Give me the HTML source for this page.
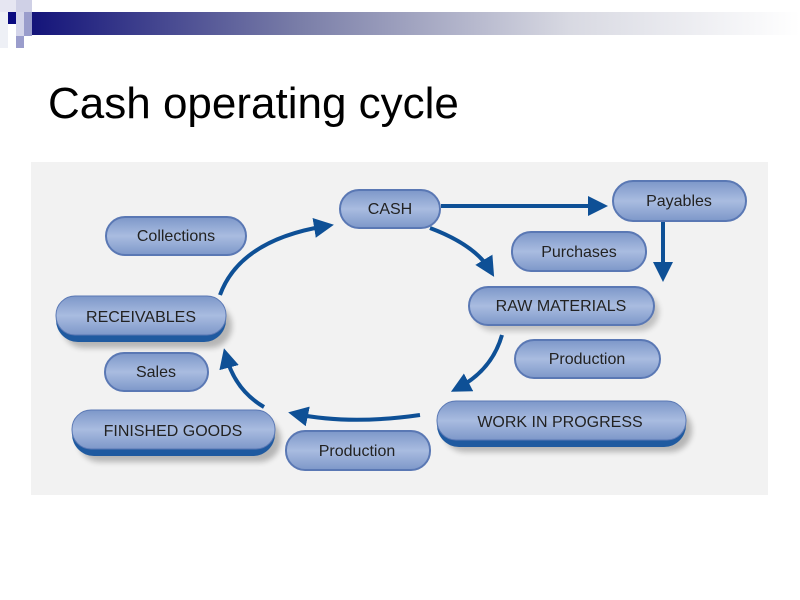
<!DOCTYPE html>
<html><head><meta charset="utf-8"><style>
body{margin:0;width:800px;height:600px;background:#fff;overflow:hidden;font-family:"Liberation Sans",sans-serif}
</style></head><body>
<svg width="800" height="600" xmlns="http://www.w3.org/2000/svg" style="position:absolute;left:0;top:0">
<defs>
<linearGradient id="hb" x1="0" x2="1"><stop offset="0" stop-color="#14147a"/><stop offset="0.35" stop-color="#7a7ea8"/><stop offset="0.7" stop-color="#d8d9e2"/><stop offset="1" stop-color="#ffffff"/></linearGradient>
<linearGradient id="pg" x1="0" y1="0" x2="0" y2="1"><stop offset="0" stop-color="#7d97c9"/><stop offset="0.5" stop-color="#a9bce0"/><stop offset="1" stop-color="#7d97c9"/></linearGradient>
<filter id="sh" x="-20%" y="-30%" width="140%" height="180%"><feGaussianBlur stdDeviation="3"/></filter>
<marker id="ah" markerWidth="5" markerHeight="5" refX="3" refY="2.5" orient="auto" markerUnits="strokeWidth"><path d="M0,0 L5,2.5 L0,5 Z" fill="#0e5096"/></marker>
</defs>
<rect x="32" y="12" width="768" height="23" fill="url(#hb)"/>
<rect x="0" y="0" width="16" height="12" fill="#e6e6f2"/>
<rect x="16" y="0" width="16" height="12" fill="#cfd0e6"/>
<rect x="8" y="12" width="8" height="12" fill="#0a0a80"/>
<rect x="16" y="12" width="8" height="24" fill="#d4d5ea"/>
<rect x="24" y="12" width="8" height="12" fill="#9a9dcc"/>
<rect x="24" y="24" width="8" height="12" fill="#9a9dcc"/>
<rect x="16" y="36" width="8" height="12" fill="#9a9dcc"/>
<rect x="0" y="12" width="8" height="36" fill="#eef0f6"/>
<text x="48" y="118" font-size="44" fill="#000">Cash operating cycle</text>
<rect x="31" y="162" width="737" height="333" fill="#f2f2f2"/>
<g font-size="16" fill="#222" text-anchor="middle">
<!-- pills: x,y,w,h -->
<g>
<rect x="62" y="304" width="170" height="44" rx="22" fill="#000" opacity="0.25" filter="url(#sh)"/>
<rect x="56" y="296" width="170" height="46" rx="22" fill="#1f5aa0"/>
<rect x="56" y="296" width="170" height="39" rx="19" fill="url(#pg)" stroke="#5a78b4"/>
<text x="141" y="322">RECEIVABLES</text>
</g>
<g>
<rect x="78" y="418" width="203" height="44" rx="22" fill="#000" opacity="0.25" filter="url(#sh)"/>
<rect x="72" y="410" width="203" height="46" rx="22" fill="#1f5aa0"/>
<rect x="72" y="410" width="203" height="39" rx="19" fill="url(#pg)" stroke="#5a78b4"/>
<text x="173" y="436">FINISHED GOODS</text>
</g>
<g>
<rect x="443" y="408" width="249" height="44" rx="22" fill="#000" opacity="0.25" filter="url(#sh)"/>
<rect x="437" y="401" width="249" height="46" rx="22" fill="#1f5aa0"/>
<rect x="437" y="401" width="249" height="39" rx="19" fill="url(#pg)" stroke="#5a78b4"/>
<text x="560" y="427">WORK IN PROGRESS</text>
</g>
<g>
<rect x="474" y="293" width="185" height="38" rx="19" fill="#000" opacity="0.2" filter="url(#sh)"/>
<rect x="469" y="287" width="185" height="38" rx="19" fill="url(#pg)" stroke="#5a78b4" stroke-width="2"/>
<text x="561" y="311">RAW MATERIALS</text>
</g>
<g>
<rect x="340" y="190" width="100" height="38" rx="19" fill="url(#pg)" stroke="#5a78b4" stroke-width="2"/>
<text x="390" y="214">CASH</text>
</g>
<g>
<rect x="613" y="181" width="133" height="40" rx="20" fill="url(#pg)" stroke="#5a78b4" stroke-width="2"/>
<text x="679" y="206">Payables</text>
</g>
<g>
<rect x="106" y="217" width="140" height="38" rx="19" fill="url(#pg)" stroke="#5a78b4" stroke-width="2"/>
<text x="176" y="241">Collections</text>
</g>
<g>
<rect x="512" y="232" width="134" height="39" rx="19" fill="url(#pg)" stroke="#5a78b4" stroke-width="2"/>
<text x="579" y="257">Purchases</text>
</g>
<g>
<rect x="515" y="340" width="145" height="38" rx="19" fill="url(#pg)" stroke="#5a78b4" stroke-width="2"/>
<text x="587" y="364">Production</text>
</g>
<g>
<rect x="105" y="353" width="103" height="38" rx="19" fill="url(#pg)" stroke="#5a78b4" stroke-width="2"/>
<text x="156" y="377">Sales</text>
</g>
<g>
<rect x="286" y="431" width="144" height="39" rx="19" fill="url(#pg)" stroke="#5a78b4" stroke-width="2"/>
<text x="357" y="456">Production</text>
</g>
</g>
<g fill="none" stroke="#0e5096" stroke-width="4" marker-end="url(#ah)">
<path d="M441,206 L600,206"/>
<path d="M430,228 Q475,245 490,270"/>
<path d="M663,222 L663,274"/>
<path d="M502,335 Q492,370 458,388"/>
<path d="M420,415 Q350,425 296,414"/>
<path d="M264,407 Q235,390 226,356"/>
<path d="M220,295 Q240,240 326,226"/>
</g>
</svg>
</body></html>
